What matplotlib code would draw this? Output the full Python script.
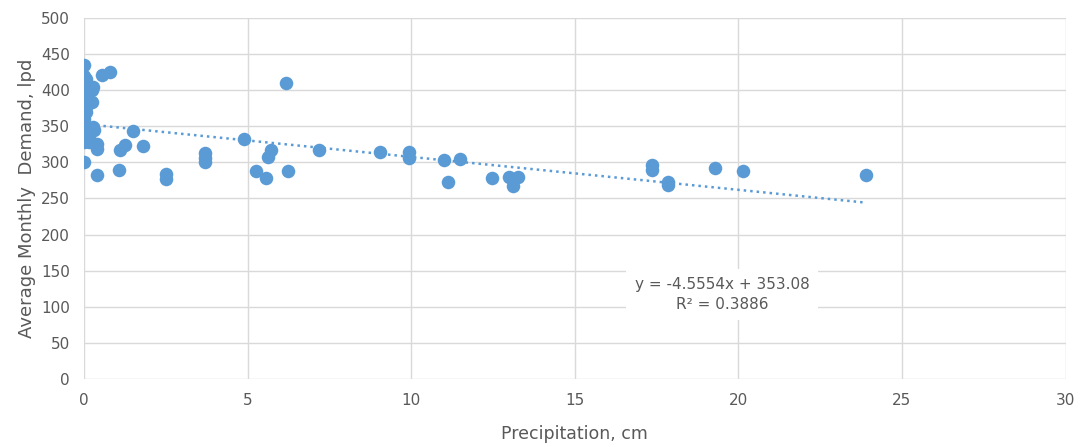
import matplotlib
matplotlib.use("Agg")
import numpy as np
import matplotlib.pyplot as plt

# values
precip = [0, 0, 0, 0, 0, 0, 0, 0, 0, 0, 0, 0, 0, 0, 0, 0, 0, 0, 0, 0,
          0.05, 0.05, 0.05, 0.05, 0.1, 0.1, 0.1, 0.15, 0.15,
          0.25, 0.28, 0.23, 0.28, 0.3, 0.39, 0.39, 0.39,
          0.54, 0.8, 1.07, 1.1, 1.25, 1.5, 1.8,
          2.5, 2.5, 3.7, 3.7, 3.7, 4.9,
          5.25, 5.55, 5.63, 5.7, 6.17, 6.23, 7.18, 9.04, 9.93, 9.93,
          11.0, 11.12, 11.5, 12.46, 13.0, 13.1, 13.25,
          17.35, 17.35, 17.85, 17.85, 19.28, 20.13, 23.9]
demand = [435, 420, 412, 402, 396, 390, 385, 380, 375, 370, 365, 360, 355, 350, 345, 340, 336, 332, 328, 300,
          415, 395, 370, 340, 405, 380, 345, 335, 328,
          400, 404, 384, 349, 345, 325, 318, 282,
          421, 425, 289, 317, 324, 343, 323,
          284, 277, 313, 306, 300, 332,
          288, 279, 308, 317, 410, 288, 317, 314, 315, 306,
          303, 273, 304, 279, 280, 267, 280,
          296, 290, 273, 268, 292, 288, 282]

# trendline from the chart's equation
slope = -4.5554
intercept = 353.08
trend_x = [0, 23.9]

blue = "#5B9BD5"
grey = "#595959"

fig, ax = plt.subplots(figsize=(10.84, 4.47), dpi=100)
fig.subplots_adjust(left=0.0775, right=0.983, top=0.96, bottom=0.152)

ax.scatter(precip, demand, s=95, color=blue, zorder=3, linewidths=0)
tx = np.array(trend_x)
ax.plot(tx, slope * tx + intercept, color=blue, linestyle=(0, (1, 1.6)), linewidth=1.8, zorder=2)

ax.set_xlim(0, 30)
ax.set_ylim(0, 500)
ax.set_xticks(range(0, 31, 5))
ax.set_yticks(range(0, 501, 50))
ax.grid(True, color="#D9D9D9", linewidth=1)
ax.set_axisbelow(True)
for s in ax.spines.values():
    s.set_visible(False)
ax.tick_params(length=0, colors=grey, labelsize=11, pad=10)

ax.set_xlabel("Precipitation, cm", color=grey, fontsize=12.5, labelpad=12)
ax.set_ylabel("Average Monthly  Demand, lpd", color=grey, fontsize=13, labelpad=4)

ax.text(19.5, 117, "y = -4.5554x + 353.08\nR² = 0.3886", ha="center", va="center",
        color=grey, fontsize=11, linespacing=1.4, zorder=4,
        bbox=dict(facecolor="white", edgecolor="none", pad=6))

fig.savefig("out.png")
